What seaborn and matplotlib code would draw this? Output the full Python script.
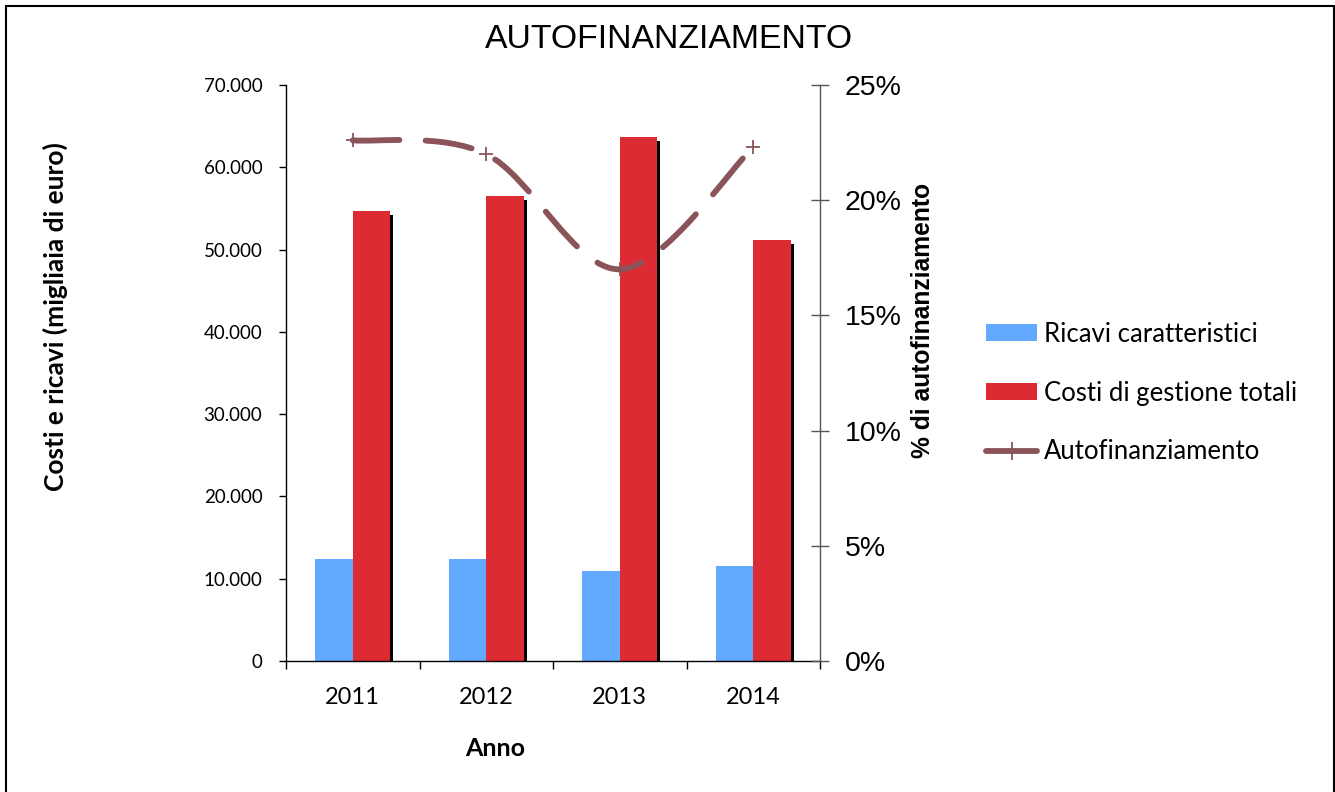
import numpy as np
import pandas as pd
import seaborn as sns
import matplotlib
matplotlib.use("Agg")
import matplotlib.pyplot as plt
import matplotlib.ticker as ticker
import matplotlib.patheffects as pe
from matplotlib.path import Path
from matplotlib.patches import PathPatch, Patch, Rectangle
from matplotlib.lines import Line2D

# data
anni = ["2011", "2012", "2013", "2014"]
ricavi = [12400, 12400, 10900, 11500]
costi = [54700, 56500, 63700, 51200]
autofin = [22.6, 22.0, 17.0, 22.3]

serie = ["Ricavi caratteristici", "Costi di gestione totali"]
colori = ["#63A9FF", "#DD2B33"]
col_linea = "#8A5459"

df = pd.DataFrame({
    "anno": anni * 2,
    "serie": [serie[0]] * 4 + [serie[1]] * 4,
    "valore": ricavi + costi,
})

sns.set_theme(style="white")
plt.rcParams["font.family"] = ["Lato", "DejaVu Sans"]
plt.rcParams["text.color"] = "black"
plt.rcParams["xtick.color"] = "black"
plt.rcParams["ytick.color"] = "black"

fig = plt.figure(figsize=(13.35, 7.92), dpi=100)
ax = fig.add_axes([286 / 1335, 131 / 792, 534 / 1335, 576 / 792])

sns.barplot(data=df, x="anno", y="valore", hue="serie", order=anni,
            hue_order=serie, palette=colori, width=0.56, saturation=1,
            linewidth=0, legend=False, ax=ax)

# black drop shadow on the red bars
for bar in ax.containers[1]:
    bar.set_path_effects([pe.SimplePatchShadow(offset=(2.2, -2.9),
                                               shadow_rgbFace="black", alpha=1.0),
                          pe.Normal()])

ax.set_xlim(-0.5, 3.5)
ax.set_ylim(0, 70000)
ax.set_yticks(np.arange(0, 70001, 10000))
ax.yaxis.set_major_formatter(ticker.FuncFormatter(
    lambda v, p: f"{v:,.0f}".replace(",", ".")))
ax.set_xlabel("")
ax.set_ylabel("")
ax.xaxis.set_minor_locator(ticker.FixedLocator(np.arange(-0.5, 3.6, 1)))
ax.tick_params(axis="x", which="major", length=0, pad=19, labelsize=17)
ax.tick_params(axis="x", which="minor", length=6, width=1, color="black",
               direction="out", bottom=True)
ax.tick_params(axis="y", length=5, width=1, color="black", direction="out",
               pad=12, labelsize=13.5, left=True)
for s in ["top", "right"]:
    ax.spines[s].set_visible(False)
for s in ["left", "bottom"]:
    ax.spines[s].set_color("black")
    ax.spines[s].set_linewidth(1)

# secondary axis: % autofinanziamento, smoothed dashed line
ax2 = ax.twinx()
ax2.set_ylim(0, 25)
ax2.set_yticks(np.arange(0, 26, 5))
ax2.yaxis.set_major_formatter(ticker.FormatStrFormatter("%d%%"))
ax2.tick_params(axis="y", direction="inout", length=13, width=1,
                color="#555555", labelcolor="black", pad=11.5, labelsize=20.5,
                right=True)
for lab in ax2.get_yticklabels():
    lab.set_fontfamily("Liberation Sans")
for s in ["top", "left", "bottom"]:
    ax2.spines[s].set_visible(False)
ax2.spines["right"].set_color("#555555")
ax2.spines["right"].set_linewidth(1)
ax2.grid(False)
ax.grid(False)

xs = np.arange(len(anni), dtype=float)
pts = np.column_stack([xs, autofin])
verts = [pts[0]]
codes = [Path.MOVETO]
n = len(pts)
for i in range(n - 1):
    p_prev = pts[max(i - 1, 0)]
    p_next2 = pts[min(i + 2, n - 1)]
    c1 = pts[i] + (pts[i + 1] - p_prev) / 6
    c2 = pts[i + 1] - (p_next2 - pts[i]) / 6
    verts += [c1, c2, pts[i + 1]]
    codes += [Path.CURVE4] * 3
curva = PathPatch(Path(verts, codes), facecolor="none", edgecolor=col_linea,
                  linewidth=4.2, linestyle=(0, (8, 4.5)), capstyle="round",
                  zorder=3)
ax2.add_patch(curva)
sns.scatterplot(x=xs, y=autofin, marker="+", s=110, color=col_linea,
                linewidth=1.3, legend=False, zorder=4, ax=ax2)
ax2.set_xlim(-0.5, 3.5)

# titles and axis labels
fig.text(669 / 1335, 1 - 40 / 792, "AUTOFINANZIAMENTO", ha="center",
         va="center", fontsize=24.3, family="Liberation Sans")
fig.text(495 / 1335, 1 - 749 / 792, "Anno", ha="center", va="center",
         fontsize=18, fontweight="bold")
fig.text(55 / 1335, 1 - 317 / 792, "Costi e ricavi (migliaia di euro)",
         ha="center", va="center", rotation=90, fontsize=19, fontweight="bold")
fig.text(923 / 1335, 1 - 320 / 792, "% di autofinanziamento", ha="center",
         va="center", rotation=90, fontsize=17.7, fontweight="bold",
         family="Liberation Sans")

handles = [Patch(facecolor=colori[0], edgecolor="none"),
           Patch(facecolor=colori[1], edgecolor="none"),
           Line2D([], [], color=col_linea, lw=4.2, marker="+", markersize=13,
                  markeredgewidth=1.3, solid_capstyle="round")]
fig.legend(handles, serie + ["Autofinanziamento"], loc="center left",
           bbox_to_anchor=(986 / 1335, 1 - 393 / 792), frameon=False,
           fontsize=18.5, borderpad=0, borderaxespad=0, handlelength=2.0,
           handleheight=0.6, handletextpad=0.25, labelspacing=1.32)

fig.patches.append(Rectangle((6 / 1335, -0.05), 1328 / 1335, 1.05 - 6 / 792,
                             transform=fig.transFigure, fill=False,
                             edgecolor="black", linewidth=1.5))

fig.savefig("out.png", dpi=100)
